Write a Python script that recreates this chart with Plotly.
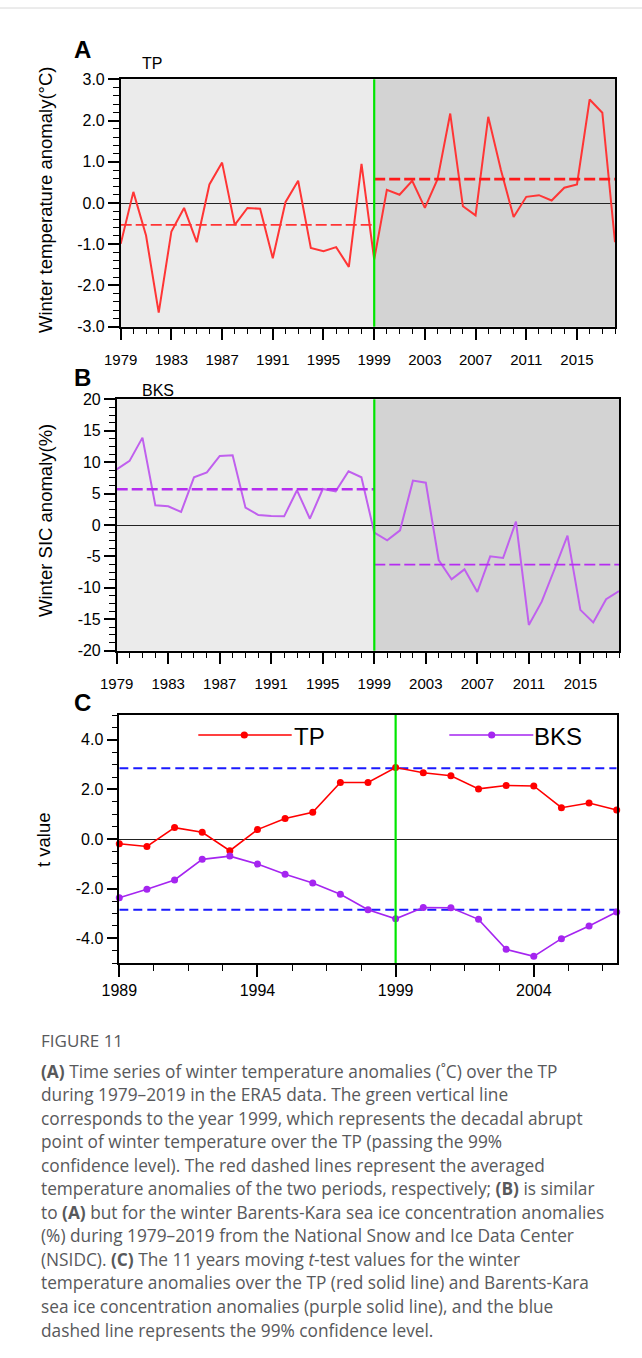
import plotly.graph_objects as go

W, H = 642, 1358

# ---------------- data ----------------
years = list(range(1979, 2019))
tp_anom = [-0.99, 0.27, -0.79, -2.66, -0.69, -0.12, -0.95, 0.45, 0.98, -0.53,
           -0.12, -0.14, -1.34, 0.02, 0.54, -1.09, -1.17, -1.07, -1.55, 0.95,
           -1.37, 0.32, 0.20, 0.54, -0.12, 0.58, 2.17, -0.08, -0.30, 2.09,
           0.80, -0.34, 0.15, 0.19, 0.06, 0.37, 0.45, 2.51, 2.19, -0.95]
bks_sic = [8.86, 10.2, 13.9, 3.13, 2.97, 2.07, 7.59, 8.38, 10.98, 11.09,
           2.76, 1.59, 1.43, 1.38, 5.52, 1.0, 5.73, 5.36, 8.54, 7.59,
           -1.22, -2.44, -0.85, 7.06, 6.74, -5.57, -8.65, -7.06, -10.66, -4.99,
           -5.25, 0.53, -15.9, -12.2, -7.0, -1.7, -13.5, -15.5, -11.8, -10.5]
# period means
period1 = [1979, 1999]
period2 = [1999, 2018]
tp_means = [-0.53, 0.58]
bks_means = [5.7, -6.3]
break_year = 1999

t_years = list(range(1989, 2008))
tp_t = [-0.19, -0.30, 0.46, 0.27, -0.47, 0.38, 0.83, 1.08, 2.28, 2.28,
        2.88, 2.67, 2.55, 2.02, 2.16, 2.14, 1.26, 1.45, 1.17]
bks_t = [-2.37, -2.03, -1.65, -0.82, -0.69, -1.01, -1.42, -1.77, -2.23, -2.85,
         -3.22, -2.76, -2.77, -3.24, -4.45, -4.73, -4.02, -3.51, -2.94]
t_crit = 2.85

# tick labels
xA_ticks = [1979, 1983, 1987, 1991, 1995, 1999, 2003, 2007, 2011, 2015]
yA_ticks = [3.0, 2.0, 1.0, 0.0, -1.0, -2.0, -3.0]
yA_text = ["3.0", "2.0", "1.0", "0.0", "-1.0", "-2.0", "-3.0"]
yB_ticks = [20, 15, 10, 5, 0, -5, -10, -15, -20]
yB_text = ["20", "15", "10", "5", "0", "-5", "-10", "-15", "-20"]
xC_ticks = [1989, 1994, 1999, 2004]
yC_ticks = [4.0, 2.0, 0.0, -2.0, -4.0]
yC_text = ["4.0", "2.0", "0.0", "-2.0", "-4.0"]

caption_title = "FIGURE 11"
caption_lines = [
    "<b>(A)</b> Time series of winter temperature anomalies (˚C) over the TP",
    "during 1979–2019 in the ERA5 data. The green vertical line",
    "corresponds to the year 1999, which represents the decadal abrupt",
    "point of winter temperature over the TP (passing the 99%",
    "confidence level). The red dashed lines represent the averaged",
    "temperature anomalies of the two periods, respectively; <b>(B)</b> is similar",
    "to <b>(A)</b> but for the winter Barents-Kara sea ice concentration anomalies",
    "(%) during 1979–2019 from the National Snow and Ice Data Center",
    "(NSIDC). <b>(C)</b> The 11 years moving <i>t</i>-test values for the winter",
    "temperature anomalies over the TP (red solid line) and Barents-Kara",
    "sea ice concentration anomalies (purple solid line), and the blue",
    "dashed line represents the 99% confidence level.",
]

# ---------------- styles ----------------
FONT = "Liberation Sans, Arial, Helvetica, sans-serif"
RED_A = "#ff3535"
PURP_B = "#c060ee"
PURP_B_D = "#b52ef0"
RED_C = "#ff0000"
PURP_C = "#a525f0"
GREEN = "#00e600"
BLUE = "#1a1aff"


def px_x(p):
    return p / W


def px_y(p):
    return 1 - p / H


def xdom(l, r):
    return [px_x(l), px_x(r)]


def ydom(t, b):
    return [px_y(b), px_y(t)]


fig = go.Figure()

# Panel A
fig.add_trace(go.Scatter(x=years, y=tp_anom, mode="lines",
                         line=dict(color=RED_A, width=2), xaxis="x", yaxis="y"))
fig.add_trace(go.Scatter(x=period1, y=[tp_means[0]] * 2, mode="lines",
                         line=dict(color=RED_A, width=1.6, dash="11px,4px"), xaxis="x", yaxis="y"))
fig.add_trace(go.Scatter(x=period2, y=[tp_means[1]] * 2, mode="lines",
                         line=dict(color="#ff1a1a", width=2.6, dash="11px,4px"), xaxis="x", yaxis="y"))

# Panel B
fig.add_trace(go.Scatter(x=years, y=bks_sic, mode="lines",
                         line=dict(color=PURP_B, width=2), xaxis="x2", yaxis="y2"))
fig.add_trace(go.Scatter(x=period1, y=[bks_means[0]] * 2, mode="lines",
                         line=dict(color=PURP_B_D, width=2.6, dash="11px,4px"), xaxis="x2", yaxis="y2"))
fig.add_trace(go.Scatter(x=period2, y=[bks_means[1]] * 2, mode="lines",
                         line=dict(color=PURP_B_D, width=1.6, dash="11px,4px"), xaxis="x2", yaxis="y2"))

# Panel C
fig.add_trace(go.Scatter(x=[t_years[0], t_years[-1]], y=[t_crit] * 2, mode="lines",
                         line=dict(color=BLUE, width=2, dash="9px,5px"), xaxis="x3", yaxis="y3"))
fig.add_trace(go.Scatter(x=[t_years[0], t_years[-1]], y=[-t_crit] * 2, mode="lines",
                         line=dict(color=BLUE, width=2, dash="9px,5px"), xaxis="x3", yaxis="y3"))
fig.add_trace(go.Scatter(x=t_years, y=tp_t, mode="lines+markers", cliponaxis=False,
                         line=dict(color=RED_C, width=1.6), marker=dict(color=RED_C, size=7),
                         xaxis="x3", yaxis="y3"))
fig.add_trace(go.Scatter(x=t_years, y=bks_t, mode="lines+markers", cliponaxis=False,
                         line=dict(color=PURP_C, width=1.6), marker=dict(color=PURP_C, size=7),
                         xaxis="x3", yaxis="y3"))


def xax(dom, rng, tickvals, tick0, mdtick, anchor, fs=15, standoff=7):
    return dict(domain=dom, range=rng, anchor=anchor, tickmode="array", tickvals=tickvals,
                ticktext=[str(v) for v in tickvals],
                ticks="outside", ticklen=12, tickwidth=1.5, tickcolor="black",
                minor=dict(ticks="outside", ticklen=6, tickwidth=1.3, tickcolor="black",
                           tick0=tick0, dtick=mdtick, showgrid=False),
                showline=True, mirror=True, linecolor="black", linewidth=1.5,
                showgrid=False, zeroline=False, ticklabelstandoff=standoff, automargin=False,
                tickfont=dict(family=FONT, size=fs, color="black"))


def yax(dom, rng, tickvals, ticktext, tick0, mdtick, anchor):
    return dict(domain=dom, range=rng, anchor=anchor, tickmode="array", tickvals=tickvals,
                ticktext=ticktext,
                ticks="outside", ticklen=11, tickwidth=1.5, tickcolor="black",
                minor=dict(ticks="outside", ticklen=6, tickwidth=1.3, tickcolor="black",
                           tick0=tick0, dtick=mdtick, showgrid=False),
                showline=True, mirror=True, linecolor="black", linewidth=1.5,
                showgrid=False, zeroline=True, zerolinecolor="#222", zerolinewidth=1.3,
                automargin=False, tickfont=dict(family=FONT, size=16, color="black"))


A_dom = (xdom(120.7, 615), ydom(79.3, 326.7))
B_dom = (xdom(116.7, 619), ydom(399.3, 650.7))
C_dom = (xdom(119.3, 616.7), ydom(715, 963))

fig.update_layout(
    width=W, height=H, margin=dict(l=0, r=0, t=0, b=0, pad=0), autosize=False,
    paper_bgcolor="white", plot_bgcolor="rgba(0,0,0,0)", showlegend=False,
    xaxis=xax(A_dom[0], [1979, 2018], xA_ticks, 1979, 1, "y"),
    yaxis=yax(A_dom[1], [-3, 3], yA_ticks, yA_text, -3, 0.2, "x"),
    xaxis2=xax(B_dom[0], [1979, 2018], xA_ticks, 1979, 1, "y2"),
    yaxis2=yax(B_dom[1], [-20, 20], yB_ticks, yB_text, -20, 1.25, "x2"),
    xaxis3=xax(C_dom[0], [1989, 2007], xC_ticks, 1989, 1.25, "y3", fs=16, standoff=0),
    yaxis3=yax(C_dom[1], [-5, 5], yC_ticks, yC_text, 0, 0.5, "x3"),
)

shapes = []
for xa, ya in (("x", "y"), ("x2", "y2")):
    shapes.append(dict(type="rect", xref=xa, yref=ya + " domain", x0=period1[0], x1=period1[1],
                       y0=0, y1=1, fillcolor="#ebebeb", line=dict(width=0), layer="below"))
    shapes.append(dict(type="rect", xref=xa, yref=ya + " domain", x0=period2[0], x1=period2[1],
                       y0=0, y1=1, fillcolor="#d3d3d3", line=dict(width=0), layer="below"))
for xa, ya in (("x", "y"), ("x2", "y2"), ("x3", "y3")):
    shapes.append(dict(type="line", xref=xa, yref=ya + " domain", x0=break_year, x1=break_year,
                       y0=0, y1=1, line=dict(color=GREEN, width=2.2)))

# legend in panel C (drawn manually)
leg_y = px_y(735)
for (l, r, cx, col) in ((198.3, 291.7, 244.3, RED_C), (449.3, 533.3, 491.7, PURP_C)):
    shapes.append(dict(type="line", xref="paper", yref="paper", x0=px_x(l), x1=px_x(r),
                       y0=leg_y, y1=leg_y, line=dict(color=col, width=1.6)))
    shapes.append(dict(type="circle", xref="paper", yref="paper",
                       x0=px_x(cx - 3.6), x1=px_x(cx + 3.6), y0=px_y(735 + 3.6), y1=px_y(735 - 3.6),
                       fillcolor=col, line=dict(color=col, width=0)))

# page border line at top
shapes.append(dict(type="line", xref="paper", yref="paper", x0=0, x1=1, y0=px_y(8), y1=px_y(8),
                   line=dict(color="#d8d8d8", width=1)))
fig.update_layout(shapes=shapes)

ann = []


def txt(x, y, s, size, bold=False, xanchor="left", angle=0, color="black", family=FONT):
    ann.append(dict(x=px_x(x), y=px_y(y), xref="paper", yref="paper", text=("<b>%s</b>" % s if bold else s),
                    showarrow=False, xanchor=xanchor, yanchor="middle", textangle=angle,
                    font=dict(family=family, size=size, color=color)))


txt(72, 50, "A", 24, bold=True)
txt(140, 63, "TP", 16)
txt(72, 377, "B", 24, bold=True)
txt(140, 391, "BKS", 16)
txt(72, 702, "C", 24, bold=True)
txt(292, 736, "TP", 24)
txt(532, 736, "BKS", 24)

txt(45, 200, "Winter temperature anomaly(°C)", 18.5, xanchor="center", angle=-90)
txt(45, 520, "Winter SIC anomaly(%)", 18.5, xanchor="center", angle=-90)
txt(43, 839, "t value", 18.5, xanchor="center", angle=-90)

CAP = "Open Sans, Noto Sans, sans-serif"
txt(39, 1040, caption_title, 17, color="#58595b", family=CAP)
for i, line in enumerate(caption_lines):
    txt(39, 1071 + 23.55 * i, line, 17.3, color="#58595b", family=CAP)

fig.update_layout(annotations=ann)
fig.write_html("out.html", config={"displayModeBar": False},
               post_script="document.body.style.margin='0';document.body.style.padding='0';")
